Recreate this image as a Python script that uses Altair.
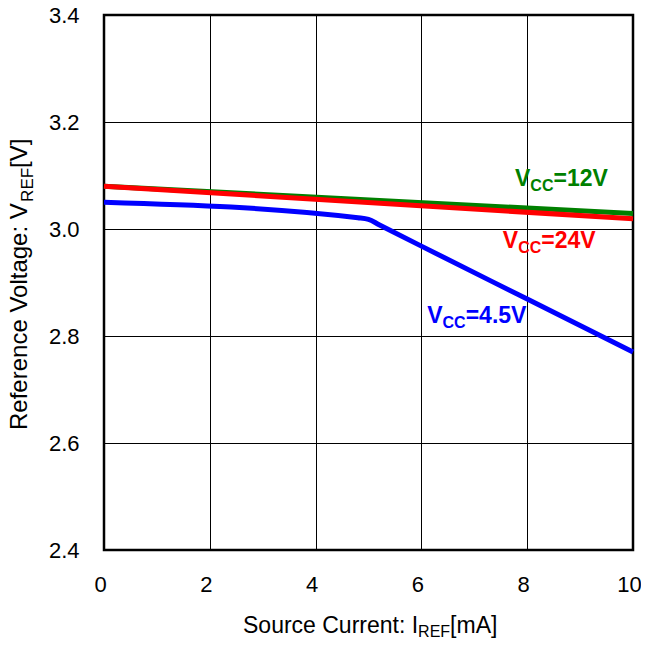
import altair as alt
import pandas as pd

FONT = "Liberation Sans"

# ---- data ----
x_12 = [0, 10]
v_12 = [3.080, 3.029]
x_24 = [0, 10]
v_24 = [3.080, 3.019]
x_45 = [0, 4.8, 5.0, 5.2, 6, 8, 10]
v_45 = [3.050, 3.021, 3.018, 3.008, 2.968, 2.869, 2.770]

series_colors = ["#008000", "#FF0000", "#0000FF"]  # 12V, 24V, 4.5V
label_main = ["V", "V", "V"]
label_sub = ["CC", "CC", "CC"]
label_rest = ["=12V", "=24V", "=4.5V"]
label_x = [7.77, 7.54, 6.11]
label_y = [3.080, 2.964, 2.824]

x_ticks = [0, 2, 4, 6, 8, 10]
y_ticks = [2.4, 2.6, 2.8, 3.0, 3.2, 3.4]

W, H = 529, 535

xenc = alt.X("x:Q", scale=alt.Scale(domain=[0, 10], nice=False, zero=False),
             axis=alt.Axis(values=x_ticks, title=None, grid=True, ticks=False, tickSize=0,
                           domain=False, labelPadding=24, labelFontSize=22, labelFont=FONT,
                           labelColor="black", gridColor="black", gridWidth=1, gridOpacity=1,
                           labelFlush=False, labelOffset=-4))
yenc = alt.Y("y:Q", scale=alt.Scale(domain=[2.4, 3.4], nice=False, zero=False),
             axis=alt.Axis(values=y_ticks, title=None, grid=True, ticks=False, tickSize=0,
                           domain=False, labelPadding=25, labelFontSize=22, labelFont=FONT,
                           labelColor="black", gridColor="black", gridWidth=1, gridOpacity=1,
                           format=".1f", labelFlush=False))


def line_layer(xs, ys, color):
    df = pd.DataFrame({"x": xs, "y": ys})
    return alt.Chart(df).mark_line(color=color, strokeWidth=5, interpolate="monotone").encode(x=xenc, y=yenc)


layers = [
    line_layer(x_12, v_12, series_colors[0]),
    line_layer(x_24, v_24, series_colors[1]),
    line_layer(x_45, v_45, series_colors[2]),
]

MAIN = 23
SUB = 16
w_V = 0.667 * MAIN
w_CC = 2 * 0.722 * SUB

for i in range(3):
    df = pd.DataFrame({"x": [label_x[i]], "y": [label_y[i]],
                       "a": [label_main[i]], "b": [label_sub[i]], "c": [label_rest[i]]})
    base = alt.Chart(df)
    layers.append(base.mark_text(align="left", baseline="alphabetic", font=FONT, fontSize=MAIN,
                                 fontWeight="bold", color=series_colors[i]).encode(x=xenc, y=yenc, text="a:N"))
    layers.append(base.mark_text(align="left", baseline="alphabetic", font=FONT, fontSize=SUB,
                                 fontWeight="bold", color=series_colors[i], dx=w_V, dy=5).encode(x=xenc, y=yenc, text="b:N"))
    layers.append(base.mark_text(align="left", baseline="alphabetic", font=FONT, fontSize=MAIN,
                                 fontWeight="bold", color=series_colors[i], dx=w_V + w_CC).encode(x=xenc, y=yenc, text="c:N"))


def seg(text, px, py, size, angle=0):
    df = pd.DataFrame({"t": [text]})
    kw = dict(align="left", baseline="alphabetic", font=FONT, fontSize=size, color="black")
    if angle:
        kw["angle"] = angle
    return alt.Chart(df).mark_text(**kw).encode(x=alt.value(px), y=alt.value(py), text="t:N")


# x axis title: "Source Current: I_REF[mA]"
xt1 = "Source Current: I"
xt2 = "REF"
xt3 = "[mA]"
XT = 23
XS = 16
x0 = 139
w1 = 7.614 * XT
w2 = 2.0 * XS
XB = 618
layers += [seg(xt1, x0, XB, XT), seg(xt2, x0 + w1, XB + 4, XS), seg(xt3, x0 + w1 + w2, XB, XT)]

# y axis title: "Reference Voltage: V_REF[V]"
yt1 = "Reference Voltage: V"
yt2 = "REF"
yt3 = "[V]"
YT = 24
YS = 17
y0 = 415
h1 = 9.505 * YT
h2 = 2.0 * YS
layers += [seg(yt1, -77, y0, YT, 270), seg(yt2, -71, y0 - h1, YS, 270), seg(yt3, -77, y0 - h1 - h2, YT, 270)]

chart = alt.layer(*layers).properties(
    width=W, height=H,
    autosize=alt.AutoSizeParams(type="none"),
    padding={"left": 96, "top": 7, "right": 8, "bottom": 89},
).configure(background="white").configure_view(stroke="black", strokeWidth=2.5)

chart.save("out.html", embed_options={"renderer": "svg", "actions": False})
